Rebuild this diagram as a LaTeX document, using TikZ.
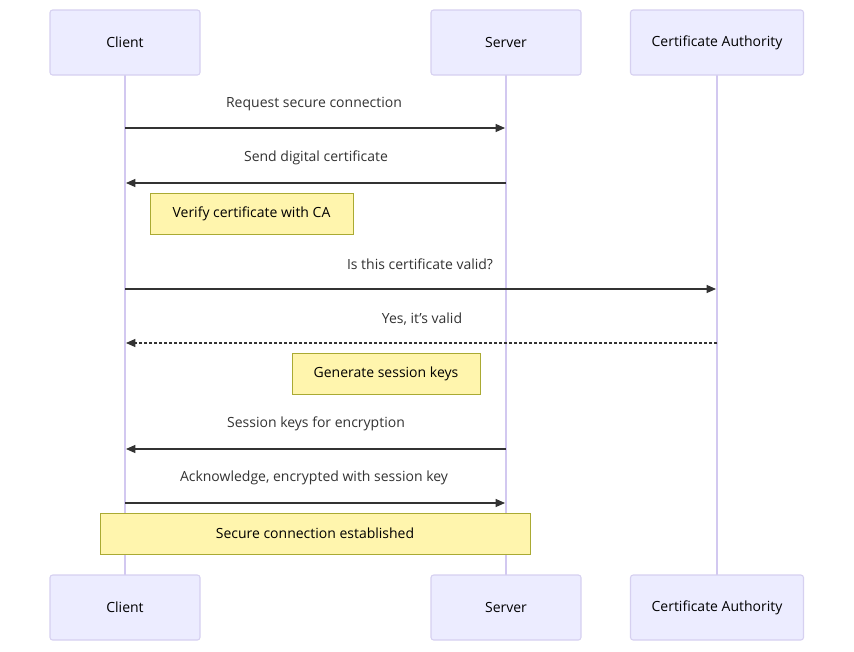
\documentclass[tikz,border=0pt]{standalone}
\usepackage{fontspec}
\setmainfont{Open Sans}
\usetikzlibrary{arrows.meta}
\definecolor{actf}{HTML}{ECECFF}
\definecolor{actb}{HTML}{D6D0F0}
\definecolor{life}{HTML}{D2C8F0}
\definecolor{notef}{HTML}{FFF5AD}
\definecolor{noteb}{HTML}{AAAA33}
\definecolor{txt}{HTML}{333333}
\begin{document}
\begin{tikzpicture}[x=0.75pt,y=-0.75pt,
 actor/.style={draw=actb,fill=actf,rounded corners=2pt,line width=0.8pt,minimum height=48.75pt,text=black,font=\fontsize{10.5}{12}\selectfont},
 note/.style={draw=noteb,fill=notef,line width=0.6pt,text=black,font=\fontsize{10.5}{12}\selectfont,minimum height=30.75pt},
 msg/.style={draw=txt,line width=0.9pt,-{Triangle[length=7pt,width=6pt]}},
 lbl/.style={text=txt,font=\fontsize{10.5}{12}\selectfont}]
\useasboundingbox (0,0) rectangle (854,651);
\fill[white] (0,0) rectangle (854,651);
\draw[life,line width=1pt] (125,75)--(125,575) (506,75)--(506,575) (717,75)--(717,575);
\node[actor,minimum width=112.5pt] (c1) at (125,42.5) {Client};
\node[actor,minimum width=112.5pt] (s1) at (506,42.5) {Server};
\node[actor,minimum width=129.75pt] (a1) at (717,42.5) {Certificate Authority};
\node[actor,minimum width=112.5pt] (c2) at (125,607.5) {Client};
\node[actor,minimum width=112.5pt] (s2) at (506,607.5) {Server};
\node[actor,minimum width=129.75pt] (a2) at (717,607.5) {Certificate Authority};
\coordinate (c128) at (125,128); \coordinate (s128) at (505,128);
\draw[msg] (c128)--(s128);
\node[lbl] (l1) at (314,104) {Request secure connection};
\coordinate (s183) at (506,183); \coordinate (c183) at (126,183);
\draw[msg] (s183)--(c183);
\node[lbl] (l2) at (316,158) {Send digital certificate};
\node[note,minimum width=152.25pt] (n1) at (251.5,213.5) {Verify certificate with CA};
\coordinate (c289) at (125,289); \coordinate (a289) at (716,289);
\draw[msg] (c289)--(a289);
\node[lbl] (l3) at (420,264) {Is this certificate valid?};
\coordinate (a343) at (717,343); \coordinate (c343) at (126,343);
\draw[msg,dashed,dash pattern=on 2.25pt off 1.5pt] (a343)--(c343);
\node[lbl] (l4) at (422,319) {Yes, it's valid};
\node[note,minimum width=141pt] (n2) at (386,373.5) {Generate session keys};
\coordinate (s449) at (506,449); \coordinate (c449) at (126,449);
\draw[msg] (s449)--(c449);
\node[lbl] (l5) at (316,424) {Session keys for encryption};
\coordinate (c503) at (125,503); \coordinate (s503) at (505,503);
\draw[msg] (c503)--(s503);
\node[lbl] (l6) at (314,478) {Acknowledge, encrypted with session key};
\node[note,minimum width=322.5pt] (n3) at (315,533.5) {Secure connection established};
\end{tikzpicture}
\end{document}
